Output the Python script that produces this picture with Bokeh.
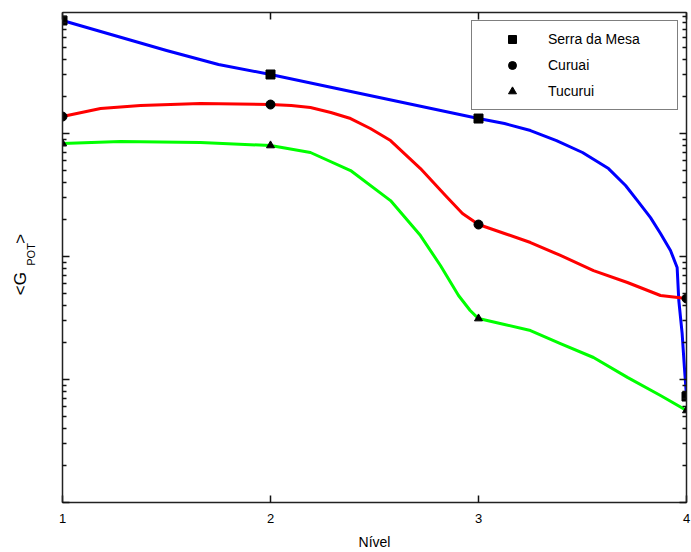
import numpy as np
from bokeh.plotting import figure
from bokeh.models import (Range1d, FixedTicker, LinearAxis, LogAxis,
                          CustomJSTickFormatter)
from bokeh.embed import file_html
from bokeh.resources import INLINE

# ---- data ----
levels = [1, 2, 3, 4]
serra_mesa = [8300, 3020, 1324, 7.27]
curuai = [1374, 1721, 182, 45.6]
tucurui = [829, 799, 31.3, 5.60]

# smooth curves
serra_curve_x = [1.0, 1.25, 1.5, 1.75, 2.0, 2.25, 2.5, 2.75, 3.0, 3.125, 3.25, 3.375, 3.5,
                 3.625, 3.707, 3.764, 3.827, 3.875, 3.923, 3.955, 3.963, 3.979, 3.990, 4.0]
serra_curve_y = [8300, 6270, 4730, 3640, 3020, 2460, 2000, 1630, 1324, 1206, 1057, 877, 701,
                 519, 378, 285, 207, 154, 112, 81.4, 43.9, 23.7, 12.5, 7.27]

curuai_curve_x = [1.0, 1.183, 1.375, 1.663, 2.0, 2.1, 2.192, 2.29, 2.385, 2.48, 2.577, 2.721,
                  2.841, 2.923, 3.0, 3.125, 3.25, 3.394, 3.553, 3.716, 3.875, 4.0]
curuai_curve_y = [1374, 1597, 1690, 1753, 1721, 1690, 1627, 1482, 1324, 1099, 877, 519,
                  313, 224, 182, 154, 130, 102, 76.9, 61.5, 48.2, 45.6]

tucurui_curve_x = [1.0, 1.279, 1.663, 2.0, 2.192, 2.385, 2.577, 2.721, 2.817, 2.904, 2.96,
                   3.0, 3.125, 3.25, 3.394, 3.553, 3.716, 3.875, 4.0]
tucurui_curve_y = [829, 861, 845, 799, 701, 500, 285, 148, 84.5, 48.2, 36.4,
                   31.3, 28.0, 25.0, 19.6, 15.1, 10.4, 7.41, 5.60]

x_ticks = [1, 2, 3, 4]
y_decades = [1, 10, 100, 1000, 10000]
y_minor = [m * d for d in [1, 10, 100, 1000] for m in range(2, 10)]

FONT = "Liberation Sans"
NB = "\u00a0"

p = figure(width=691, height=552, x_range=Range1d(1, 4), y_range=Range1d(1, 9640),
           y_axis_type="log", output_backend="svg", toolbar_location=None,
           min_border_left=62, min_border_right=5, min_border_top=12, min_border_bottom=50)
p.xgrid.visible = False
p.ygrid.visible = False
p.outline_line_color = "#333333"
p.outline_line_width = 1
p.background_fill_color = "white"
p.border_fill_color = "white"

blank = CustomJSTickFormatter(code="return ''")


def style(ax, labels=True):
    ax.axis_line_color = "#222222"
    ax.axis_line_width = 1.5
    ax.major_tick_in = 7
    ax.major_tick_out = 0
    ax.minor_tick_in = 4
    ax.minor_tick_out = 0
    ax.major_tick_line_color = "#111111"
    ax.minor_tick_line_color = "#111111"
    ax.major_tick_line_width = 1.5
    ax.minor_tick_line_width = 1.5
    ax.major_label_text_font = FONT
    ax.major_label_text_font_size = "13px"
    ax.major_label_text_color = "black"
    ax.axis_label_text_color = "black"
    ax.axis_label_text_font = FONT
    ax.axis_label_text_font_style = "normal"
    if not labels:
        ax.formatter = blank
        ax.major_label_standoff = 0


xa = p.xaxis[0]
xa.ticker = FixedTicker(ticks=x_ticks, minor_ticks=[])
style(xa)
xa.major_label_standoff = 11
xa.axis_label = "Nível"
xa.axis_label_text_font_size = "14px"
xa.axis_label_standoff = 8

# inner left axis: ticks + subscript "POT"
ya = p.yaxis[0]
ya.ticker = FixedTicker(ticks=y_decades, minor_ticks=y_minor)
style(ya, labels=False)
ya.axis_label = NB * 2 + "POT"
ya.axis_label_text_font_size = "11px"
ya.axis_label_standoff = 26

# outer left axis: only carries "<G ... >"
outer = LogAxis(ticker=FixedTicker(ticks=[], minor_ticks=[]), formatter=blank)
style(outer, labels=False)
outer.axis_line_color = None
outer.major_tick_line_color = None
outer.minor_tick_line_color = None
outer.axis_label = "<G" + NB * 6 + ">" + NB * 3
outer.axis_label_text_font_size = "17px"
outer.axis_label_standoff = -8
p.add_layout(outer, "left")

top = LinearAxis(ticker=FixedTicker(ticks=x_ticks, minor_ticks=[]))
style(top, labels=False)
p.add_layout(top, "above")
right = LogAxis(ticker=FixedTicker(ticks=y_decades, minor_ticks=y_minor))
style(right, labels=False)
p.add_layout(right, "right")

# curves
p.line(serra_curve_x, serra_curve_y, color="#0000FF", line_width=3, line_join="round")
p.line(curuai_curve_x, curuai_curve_y, color="#FF0000", line_width=3, line_join="round")
p.line(tucurui_curve_x, tucurui_curve_y, color="#00FF00", line_width=3, line_join="round")

# markers
p.scatter(levels, serra_mesa, marker="square", size=9, color="black",
          legend_label="Serra da Mesa")
p.scatter(levels, curuai, marker="circle", size=9, color="black",
          legend_label="Curuai")
p.scatter(levels, tucurui, marker="triangle", size=8, color="black",
          legend_label="Tucurui")

lg = p.legend[0]
lg.location = "top_right"
lg.margin = 8
lg.padding = 8
lg.spacing = 6
lg.glyph_width = 64
lg.glyph_height = 20
lg.label_height = 20
lg.label_width = 121
lg.label_standoff = 4
lg.label_text_font = FONT
lg.label_text_font_size = "14px"
lg.label_text_color = "black"
lg.border_line_color = "black"
lg.border_line_width = 1
lg.background_fill_color = "white"
lg.background_fill_alpha = 1

open("out.html", "w").write(file_html(p, INLINE))
